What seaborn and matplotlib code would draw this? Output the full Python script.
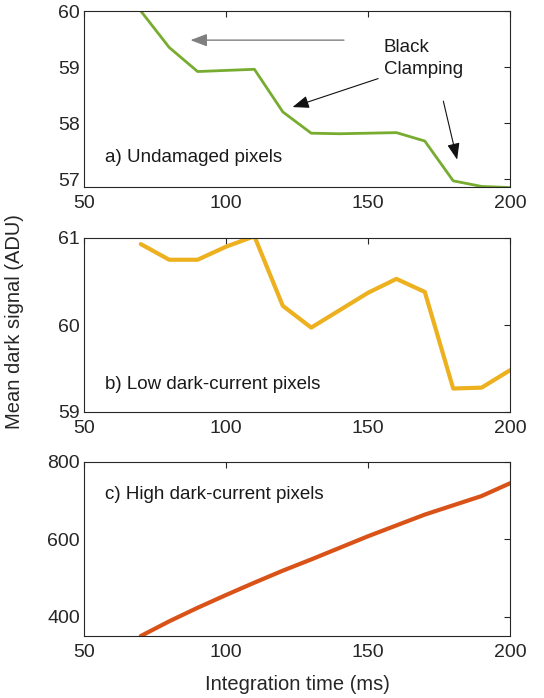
import matplotlib
matplotlib.use("Agg")
import matplotlib.pyplot as plt
import seaborn as sns
import pandas as pd
from matplotlib.patches import FancyArrowPatch

sns.set_style("white")
plt.rcParams['font.family'] = ['Liberation Sans', 'DejaVu Sans']

integration_time = [70, 80, 90, 100, 110, 120, 130, 140, 150, 160, 170, 180, 190, 200]
undamaged = [60.0, 59.35, 58.92, 58.94, 58.96, 58.20, 57.82, 57.81, 57.82, 57.83, 57.68, 56.97, 56.87, 56.85]
low_dc = [60.93, 60.75, 60.75, 60.90, 61.02, 60.22, 59.97, 60.17, 60.37, 60.53, 60.38, 59.27, 59.28, 59.48]
high_dc = [350, 388, 423, 456, 488, 519, 548, 578, 608, 636, 664, 688, 712, 745]

panel_labels = ["a) Undamaged pixels", "b) Low dark-current pixels", "c) High dark-current pixels"]
x_ticks = [50, 100, 150, 200]
y_ticks = [[57, 58, 59, 60], [59, 60, 61], [400, 600, 800]]
y_lims = [(56.86, 60.0), (59.0, 61.0), (350, 800)]
colors = ["#77AC30", "#EDB120", "#D95319"]
widths = [2.0, 3.0, 3.0]

W, H = 544, 698
fig = plt.figure(figsize=(W / 100, H / 100), dpi=100)
left, right = 84 / W, 510 / W
boxes = [(11, 187), (238, 412), (462, 636)]
axes = []
for (top, bot) in boxes:
    ax = fig.add_axes([left, 1 - bot / H, right - left, (bot - top) / H])
    axes.append(ax)

series = [undamaged, low_dc, high_dc]
text_y = [57.38, 59.32, 717]
axis_color = "#262626"
for i, ax in enumerate(axes):
    df = pd.DataFrame({"t": integration_time, "v": series[i]})
    sns.lineplot(data=df, x="t", y="v", ax=ax, color=colors[i], linewidth=widths[i])
    ax.set_xlim(50, 200)
    ax.set_ylim(*y_lims[i])
    ax.set_xticks(x_ticks)
    ax.set_yticks(y_ticks[i])
    ax.set_xlabel("")
    ax.set_ylabel("")
    ax.tick_params(direction="in", length=4, width=0.8, top=True, right=True,
                   labelsize=14, colors=axis_color)
    ax.tick_params(axis="x", pad=6)
    ax.tick_params(axis="y", pad=3)
    for s in ax.spines.values():
        s.set_color(axis_color)
        s.set_linewidth(0.8)
    ax.text(57.5, text_y[i], panel_labels[i], fontsize=13.5, color="#1a1a1a", va="center", ha="left")

# annotations on panel a
ax = axes[0]
ax.text(155.5, 59.15, "Black\nClamping", fontsize=13.5, color="#1a1a1a", va="center", ha="left",
        linespacing=1.4)
arrows = [((142.5, 59.48), (86.5, 59.48), "#7f7f7f", 1.0),
          ((154.5, 58.81), (122.5, 58.27), "#111111", 0.8),
          ((176.3, 58.44), (181.6, 57.30), "#111111", 0.8)]
for start, end, c, lw in arrows:
    ax.add_patch(FancyArrowPatch(start, end, arrowstyle="-|>,head_length=1.0,head_width=0.38",
                                 mutation_scale=10, color=c, linewidth=lw, clip_on=False))

fig.text(15 / W, 1 - 322 / H, "Mean dark signal (ADU)", rotation=90, fontsize=14.5,
         color=axis_color, ha="center", va="center")
fig.text((left + right) / 2, 1 - 684 / H, "Integration time (ms)", fontsize=14.5,
         color=axis_color, ha="center", va="center")

fig.savefig("out.png", dpi=100, facecolor="white")
